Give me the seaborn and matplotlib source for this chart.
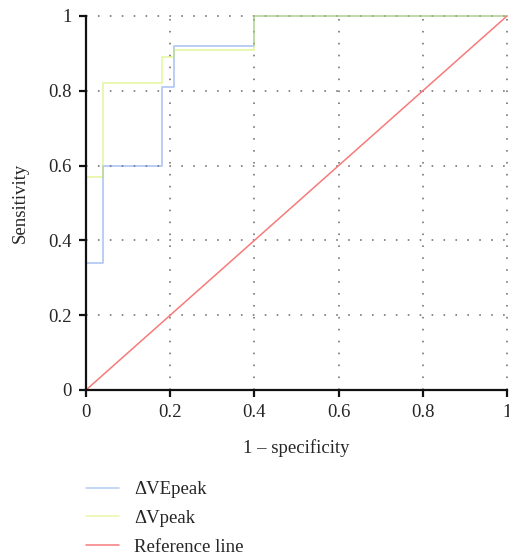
import matplotlib
matplotlib.use("Agg")
import matplotlib.pyplot as plt
import seaborn as sns
import pandas as pd

# ROC curve points (1 - specificity, sensitivity)
fpr_ve = [0.0, 0.0, 0.04, 0.04, 0.18, 0.18, 0.21, 0.21, 0.40, 0.40, 1.0]
tpr_ve = [0.0, 0.34, 0.34, 0.60, 0.60, 0.81, 0.81, 0.92, 0.92, 1.0, 1.0]
fpr_v = [0.0, 0.0, 0.04, 0.04, 0.18, 0.18, 0.21, 0.21, 0.40, 0.40, 1.0]
tpr_v = [0.0, 0.57, 0.57, 0.82, 0.82, 0.89, 0.89, 0.91, 0.91, 1.0, 1.0]
ref_x = [0.0, 1.0]
ref_y = [0.0, 1.0]

series_names = ["\u0394VEpeak", "\u0394Vpeak", "Reference line"]
tick_values = [0, 0.2, 0.4, 0.6, 0.8, 1]
tick_labels = ["0", "0.2", "0.4", "0.6", "0.8", "1"]

sns.set_style("white")
plt.rcParams["font.family"] = ["Liberation Serif", "DejaVu Serif"]
FS = 13.5
plt.rcParams["font.size"] = FS

fig = plt.figure(figsize=(5.10, 5.55), dpi=100)
ax = fig.add_axes([86 / 510, 1 - 390 / 555, (507 - 86) / 510, (390 - 16) / 555])

df_ve = pd.DataFrame({"x": fpr_ve, "y": tpr_ve})
df_v = pd.DataFrame({"x": fpr_v, "y": tpr_v})
df_ref = pd.DataFrame({"x": ref_x, "y": ref_y})

sns.lineplot(data=df_ve, x="x", y="y", sort=False, estimator=None, ax=ax,
             color="#5080e0", alpha=0.42, lw=1.3, label=series_names[0], clip_on=False)
sns.lineplot(data=df_v, x="x", y="y", sort=False, estimator=None, ax=ax,
             color="#c8ec40", alpha=0.45, lw=1.3, label=series_names[1], clip_on=False)
sns.lineplot(data=df_ref, x="x", y="y", sort=False, estimator=None, ax=ax,
             color="#f77a7a", lw=1.1, label=series_names[2], clip_on=False)

ax.set_xlim(0, 1)
ax.set_ylim(0, 1)
ax.set_xticks(tick_values)
ax.set_xticklabels(tick_labels)
ax.set_yticks(tick_values)
ax.set_yticklabels(tick_labels)

# dotted grid at every tick
for v in tick_values[1:]:
    ax.axhline(v, color="#808080", lw=1.3, ls=(0, (0.9, 5.7)), zorder=0, clip_on=False)
    ax.axvline(v, color="#808080", lw=1.3, ls=(0, (0.9, 5.7)), zorder=0, clip_on=False)

for s in ["top", "right"]:
    ax.spines[s].set_visible(False)
for s in ["left", "bottom"]:
    ax.spines[s].set_color("#111111")
    ax.spines[s].set_linewidth(1.6)
ax.tick_params(axis="both", direction="out", length=5, width=1.6, color="#111111",
               labelsize=FS, pad=5, left=True, bottom=True)

ax.set_xlabel("1 \u2013 specificity", fontsize=FS, labelpad=13)
ax.set_ylabel("Sensitivity", fontsize=FS, labelpad=14)

handles, labels = ax.get_legend_handles_labels()
ax.get_legend().remove()
leg = fig.legend(handles, labels, loc="upper left", bbox_to_anchor=(86 / 510, 1 - 481 / 555),
                 frameon=False, fontsize=FS, handlelength=1.75, handletextpad=0.8,
                 labelspacing=0.62, borderpad=0, borderaxespad=0)
for h in leg.get_lines():
    h.set_linewidth(1.1)

fig.savefig("out.png", dpi=100)
